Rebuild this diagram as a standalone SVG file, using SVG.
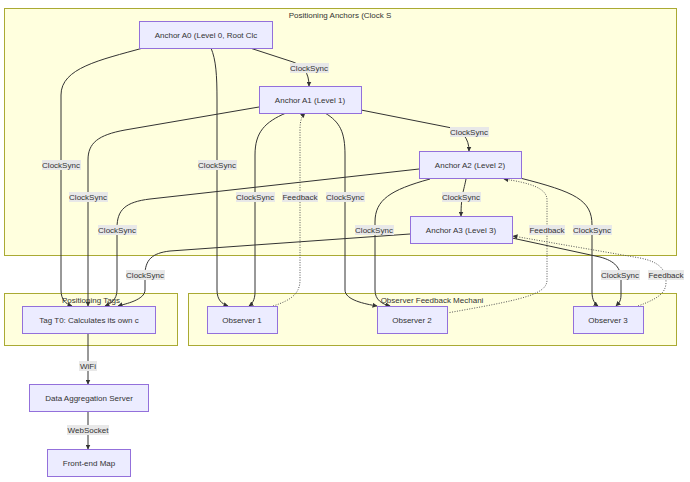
<svg xmlns="http://www.w3.org/2000/svg" width="690" height="482" viewBox="0 0 690 482">
<style>
.cluster{fill:#ffffde;stroke:#aaaa33;stroke-width:1}
.node rect{fill:#ececff;stroke:#9370db;stroke-width:1}
text{font-family:"Liberation Sans",Arial,sans-serif;font-size:8px;fill:#333;text-anchor:middle}
.edge{fill:none;stroke:#333;stroke-width:1}
.dot{stroke:#555;stroke-dasharray:1 1.5}
.lbl rect{fill:#e8e8e8;stroke:none}
</style>
<defs>
<marker id="arr" viewBox="0 0 10 10" refX="9" refY="5" markerWidth="5" markerHeight="5" markerUnits="userSpaceOnUse" orient="auto">
<path d="M0,0 L10,5 L0,10 z" fill="#333"/>
</marker>
</defs>
<rect width="690" height="482" fill="#ffffff"/>
<g id="clusters">
<rect class="cluster" x="4.5" y="8.5" width="672" height="247"/>
<text x="340" y="18">Positioning Anchors (Clock S</text>
<rect class="cluster" x="4.5" y="293.5" width="173" height="52"/>
<text x="91" y="303">Positioning Tags</text>
<rect class="cluster" x="188.5" y="293.5" width="488" height="52"/>
<text x="432" y="303">Observer Feedback Mechani</text>
</g>
<g id="connectors">
<path class="edge" marker-end="url(#arr)" d="M143,48 C100,60 61,68 61,95 L61,290 C61,300 66,304 72,306"/>
<path class="edge" marker-end="url(#arr)" d="M211,48 C216,60 217,75 217,100 L217,290 C217,300 222,304 228,306"/>
<path class="edge" marker-end="url(#arr)" d="M250,48 L293,62 C303,66 309,72 309,86"/>
<path class="edge" marker-end="url(#arr)" d="M361,110 L452,128 C462,131 469,138 469,151"/>
<path class="edge" marker-end="url(#arr)" d="M259,107 L125,130 C98,135 88,143 88,160 L88,306"/>
<path class="edge" marker-end="url(#arr)" d="M286,113 C265,122 255,132 255,155 L255,292 C255,300 252,304 249,306"/>
<path class="edge dot" marker-end="url(#arr)" d="M273,306 C292,300 300,293 300,280 L300,130 C300,120 302,116 305,113"/>
<path class="edge" marker-end="url(#arr)" d="M325,113 C340,122 345,132 345,155 L345,290 C345,300 365,304 377,306"/>
<path class="edge" marker-end="url(#arr)" d="M419,169 L150,199 C125,202 117,210 117,228 L117,290 C117,300 110,304 105,306"/>
<path class="edge" marker-end="url(#arr)" d="M466,179 C464,190 461,195 461,216"/>
<path class="edge" marker-end="url(#arr)" d="M430,179 C390,190 375,200 375,222 L375,290 C375,300 382,304 390,306"/>
<path class="edge dot" marker-end="url(#arr)" d="M447,313 C520,300 547,295 547,280 L547,200 C547,188 530,183 504,179"/>
<path class="edge" marker-end="url(#arr)" d="M520,178 C575,192 592,200 592,225 L592,292 C592,300 595,304 598,306"/>
<path class="edge" marker-end="url(#arr)" d="M410,234 L170,251 C152,253 145,260 145,275 L145,290 C145,300 125,304 118,306"/>
<path class="edge" marker-end="url(#arr)" d="M512,238 L600,257 C615,261 621,268 621,280 L621,295 C621,302 618,304 616,306"/>
<path class="edge dot" marker-end="url(#arr)" d="M638,306 C660,298 666,292 666,282 C666,270 660,262 640,258 L513,236"/>
<path class="edge" marker-end="url(#arr)" d="M88,334 L88,384"/>
<path class="edge" marker-end="url(#arr)" d="M88,411 L88,449"/>
<g class="lbl">
<rect x="290" y="63" width="39" height="10"/><text x="309" y="71">ClockSync</text>
<rect x="450" y="127" width="39" height="10"/><text x="469" y="135">ClockSync</text>
<rect x="42" y="160" width="39" height="10"/><text x="61" y="168">ClockSync</text>
<rect x="198" y="160" width="39" height="10"/><text x="217" y="168">ClockSync</text>
<rect x="69" y="192" width="39" height="10"/><text x="88" y="200">ClockSync</text>
<rect x="236" y="192" width="39" height="10"/><text x="255" y="200">ClockSync</text>
<rect x="282" y="192" width="36" height="10"/><text x="300" y="200">Feedback</text>
<rect x="326" y="192" width="39" height="10"/><text x="345" y="200">ClockSync</text>
<rect x="442" y="192" width="39" height="10"/><text x="461" y="200">ClockSync</text>
<rect x="98" y="225" width="39" height="10"/><text x="117" y="233">ClockSync</text>
<rect x="355" y="225" width="39" height="10"/><text x="374" y="233">ClockSync</text>
<rect x="529" y="225" width="36" height="10"/><text x="547" y="233">Feedback</text>
<rect x="573" y="225" width="39" height="10"/><text x="592" y="233">ClockSync</text>
<rect x="126" y="270" width="39" height="10"/><text x="145" y="278">ClockSync</text>
<rect x="601" y="270" width="39" height="10"/><text x="620" y="278">ClockSync</text>
<rect x="648" y="270" width="36" height="10"/><text x="666" y="278">Feedback</text>
<rect x="79" y="361" width="18" height="10"/><text x="88" y="369">WiFi</text>
<rect x="67" y="425" width="42" height="10"/><text x="88" y="433">WebSocket</text>
</g>
</g>
<g id="A0" class="node"><rect x="139.5" y="21.5" width="133" height="27"/><text x="206" y="38">Anchor A0 (Level 0, Root Clc</text></g>
<g id="A1" class="node"><rect x="259.5" y="86.5" width="102" height="27"/><text x="310" y="103">Anchor A1 (Level 1)</text></g>
<g id="A2" class="node"><rect x="419.5" y="151.5" width="102" height="27"/><text x="470" y="168">Anchor A2 (Level 2)</text></g>
<g id="A3" class="node"><rect x="410.5" y="216.5" width="102" height="27"/><text x="461" y="233">Anchor A3 (Level 3)</text></g>
<g id="T0" class="node"><rect x="22.5" y="306.5" width="133" height="27"/><text x="89" y="323">Tag T0: Calculates its own c</text></g>
<g id="O1" class="node"><rect x="207.5" y="306.5" width="70" height="27"/><text x="242" y="323">Observer 1</text></g>
<g id="O2" class="node"><rect x="377.5" y="306.5" width="70" height="27"/><text x="412" y="323">Observer 2</text></g>
<g id="O3" class="node"><rect x="573.5" y="306.5" width="70" height="27"/><text x="608" y="323">Observer 3</text></g>
<g id="S" class="node"><rect x="29.5" y="384.5" width="119" height="27"/><text x="89" y="401">Data Aggregation Server</text></g>
<g id="M" class="node"><rect x="47.5" y="449.5" width="83" height="27"/><text x="89" y="466">Front-end Map</text></g>
</svg>
